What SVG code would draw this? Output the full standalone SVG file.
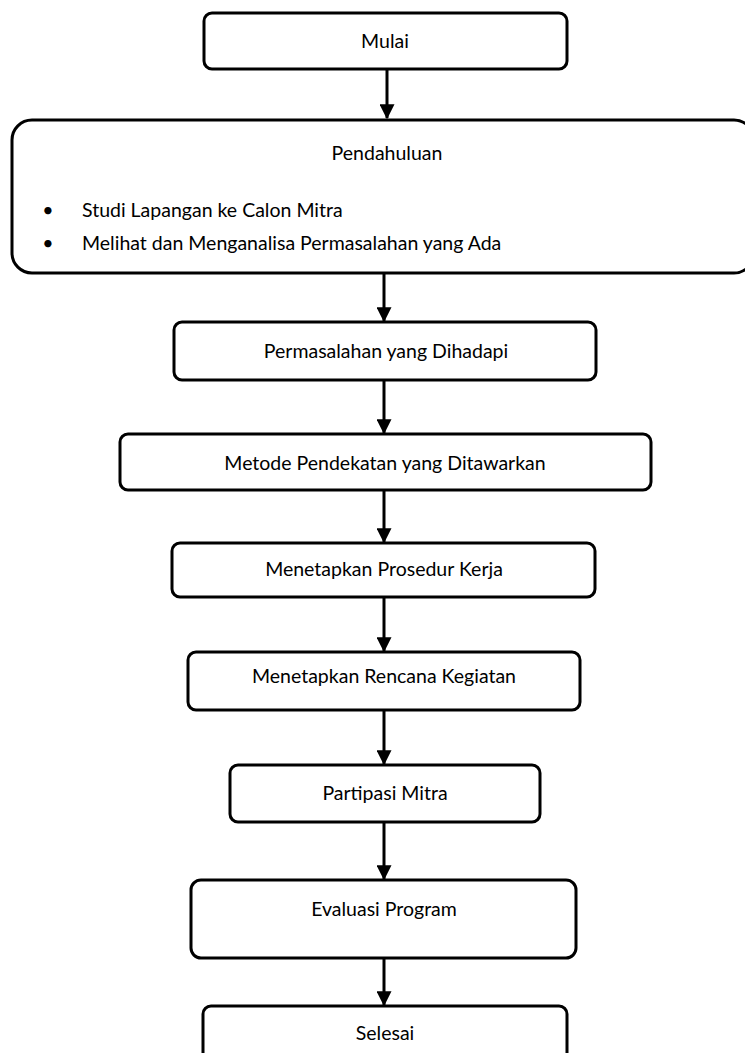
<svg xmlns="http://www.w3.org/2000/svg" width="745" height="1053" viewBox="0 0 745 1053">
<defs>
<marker id="ah" markerWidth="5" markerHeight="5" refX="4.6" refY="2.5" orient="auto" markerUnits="strokeWidth">
<path d="M0,0 L5,2.5 L0,5 Z" fill="#000"/>
</marker>
<style>
.box{fill:#fff;stroke:#000;stroke-width:3}
.t{font-family:Lato,"Open Sans",sans-serif;font-size:19.5px;fill:#000}
.c{text-anchor:middle}
.con line{stroke:#000;stroke-width:3;marker-end:url(#ah)}
</style>
</defs>
<rect width="745" height="1053" fill="#fff"/>
<g id="n1"><rect class="box" x="204" y="13" width="363" height="56" rx="8"/><text class="t c" x="385" y="48">Mulai</text></g>
<g id="n2"><rect class="box" x="12" y="120" width="742" height="153" rx="20"/><text class="t c" x="387" y="160">Pendahuluan</text>
<text class="t c" x="48" y="217">•</text><text class="t" x="82" y="217">Studi Lapangan ke Calon Mitra</text>
<text class="t c" x="48" y="250">•</text><text class="t" x="82" y="250">Melihat dan Menganalisa Permasalahan yang Ada</text></g>
<g id="n3"><rect class="box" x="174" y="322" width="422" height="58" rx="8"/><text class="t c" x="386" y="358">Permasalahan yang Dihadapi</text></g>
<g id="n4"><rect class="box" x="120" y="434" width="531" height="56" rx="8"/><text class="t c" x="385" y="470">Metode Pendekatan yang Ditawarkan</text></g>
<g id="n5"><rect class="box" x="172" y="543" width="423" height="54" rx="8"/><text class="t c" x="384" y="576">Menetapkan Prosedur Kerja</text></g>
<g id="n6"><rect class="box" x="188" y="652" width="392" height="58" rx="8"/><text class="t c" x="384" y="683">Menetapkan Rencana Kegiatan</text></g>
<g id="n7"><rect class="box" x="230" y="765" width="310" height="57" rx="8"/><text class="t c" x="385" y="800">Partipasi Mitra</text></g>
<g id="n8"><rect class="box" x="191" y="880" width="385" height="78" rx="10"/><text class="t c" x="384" y="916">Evaluasi Program</text></g>
<g id="n9"><rect class="box" x="203" y="1006" width="364" height="60" rx="8"/><text class="t c" x="385" y="1040">Selesai</text></g>
<g id="connectors" class="con">
<line x1="387" y1="69" x2="387" y2="118"/>
<line x1="384" y1="273" x2="384" y2="321"/>
<line x1="384" y1="380" x2="384" y2="433"/>
<line x1="384" y1="490" x2="384" y2="542"/>
<line x1="384" y1="597" x2="384" y2="651"/>
<line x1="384" y1="710" x2="384" y2="764"/>
<line x1="384" y1="822" x2="384" y2="879"/>
<line x1="384" y1="958" x2="384" y2="1005"/>
</g>
</svg>
